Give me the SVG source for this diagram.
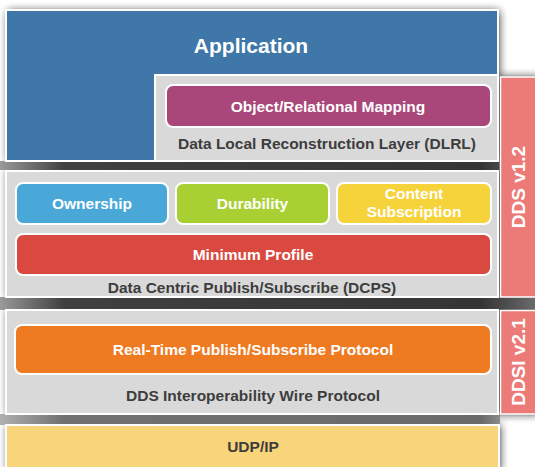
<svg xmlns="http://www.w3.org/2000/svg" width="535" height="467" viewBox="0 0 535 467">
  <defs>
    <filter id="shadow" x="-20%" y="-20%" width="140%" height="140%">
      <feGaussianBlur stdDeviation="4.5"/>
    </filter>
    <linearGradient id="gap" x1="0" y1="0" x2="535" y2="0" gradientUnits="userSpaceOnUse">
      <stop offset="0" stop-color="#9a9a9a"/>
      <stop offset="0.12" stop-color="#404040"/>
      <stop offset="0.9" stop-color="#353535"/>
      <stop offset="1" stop-color="#6a6a6a"/>
    </linearGradient>
    <linearGradient id="gap2" x1="0" y1="0" x2="535" y2="0" gradientUnits="userSpaceOnUse">
      <stop offset="0" stop-color="#b0b0b0"/>
      <stop offset="0.12" stop-color="#707070"/>
      <stop offset="0.9" stop-color="#6a6a6a"/>
      <stop offset="1" stop-color="#c8c8c8"/>
    </linearGradient>
    <style>
      text { font-family: "Liberation Sans", Arial, sans-serif; font-weight: bold; text-anchor: middle; }
      .w { fill: #ffffff; font-size: 15.5px; }
      .d { fill: #3d3d3d; font-size: 15.5px; }
      .panel { fill: #d9d9d9; stroke: #ffffff; stroke-width: 2; }
      .box { stroke: #ffffff; stroke-width: 2; }
      .side { fill: #ec7a77; stroke: #ffffff; stroke-width: 1.5; }
      .sidet { fill: #ffffff; font-size: 19px; }
    </style>
  </defs>
  <rect width="535" height="467" fill="#ffffff"/>
  <g id="shadows" filter="url(#shadow)" fill="#1a1a1a" opacity="0.95">
    <rect x="8" y="11" width="491" height="151"/>
    <rect x="8" y="170" width="491" height="128"/>
    <rect x="8" y="309" width="491" height="106"/>
    <rect x="8" y="425" width="492" height="46"/>
    <rect x="500" y="77" width="40" height="337"/>
  </g>
  <g id="gaps">
    <rect x="0" y="161" width="535" height="9" fill="url(#gap)"/>
    <rect x="0" y="297" width="535" height="13" fill="url(#gap)"/>
    <rect x="0" y="414" width="500" height="11" fill="url(#gap2)"/>
  </g>

  <g id="application">
    <rect x="6" y="10" width="492" height="151" fill="#3f78a8" stroke="#ffffff" stroke-width="2"/>
    <text x="251" y="53" fill="#ffffff" style="font-size:21px">Application</text>
  </g>
  <g id="dlrl">
    <rect class="panel" x="155" y="75" width="343" height="86"/>
    <text class="d" x="327" y="149">Data Local Reconstruction Layer (DLRL)</text>
  </g>
  <g id="orm">
    <rect class="box" x="166" y="85" width="325" height="42" rx="7" fill="#a9477a"/>
    <text class="w" x="328" y="111.5">Object/Relational Mapping</text>
  </g>

  <g id="dcps">
    <rect class="panel" x="6" y="171" width="492" height="126"/>
    <text class="d" x="252" y="293">Data Centric Publish/Subscribe (DCPS)</text>
  </g>
  <g id="ownership">
    <rect class="box" x="16" y="183" width="152" height="41" rx="7" fill="#4aa8d8"/>
    <text class="w" x="92" y="208.5">Ownership</text>
  </g>
  <g id="durability">
    <rect class="box" x="176" y="183" width="153" height="41" rx="7" fill="#a9d032"/>
    <text class="w" x="252.5" y="208.5">Durability</text>
  </g>
  <g id="content-subscription">
    <rect class="box" x="337" y="183" width="154" height="41" rx="7" fill="#f6d23b"/>
    <text class="w" x="414" y="198.5">Content</text>
    <text class="w" x="414" y="216.5">Subscription</text>
  </g>
  <g id="minimum-profile">
    <rect class="box" x="16" y="234" width="475" height="41" rx="7" fill="#d9493f"/>
    <text class="w" x="253" y="259.5">Minimum Profile</text>
  </g>

  <g id="ddsi">
    <rect class="panel" x="6" y="310" width="492" height="104"/>
    <text class="d" x="253" y="400.5">DDS Interoperability Wire Protocol</text>
  </g>
  <g id="rtps">
    <rect class="box" x="15" y="325" width="476" height="49" rx="7" fill="#ee7a22"/>
    <text class="w" x="253" y="354.5">Real-Time Publish/Subscribe Protocol</text>
  </g>

  <g id="udpip">
    <rect x="6" y="425" width="493" height="46" fill="#f8d47a" stroke="#ffffff" stroke-width="2"/>
    <text class="d" x="253" y="451.5">UDP/IP</text>
  </g>

  <g id="dds-v12">
    <rect class="side" x="500.5" y="77" width="40" height="220"/>
    <text class="sidet" transform="translate(524.5,187) rotate(-90)">DDS v1.2</text>
  </g>
  <g id="ddsi-v21">
    <rect class="side" x="500.5" y="310.5" width="40" height="103.5"/>
    <text class="sidet" transform="translate(524.5,362) rotate(-90)">DDSI v2.1</text>
  </g>
</svg>
